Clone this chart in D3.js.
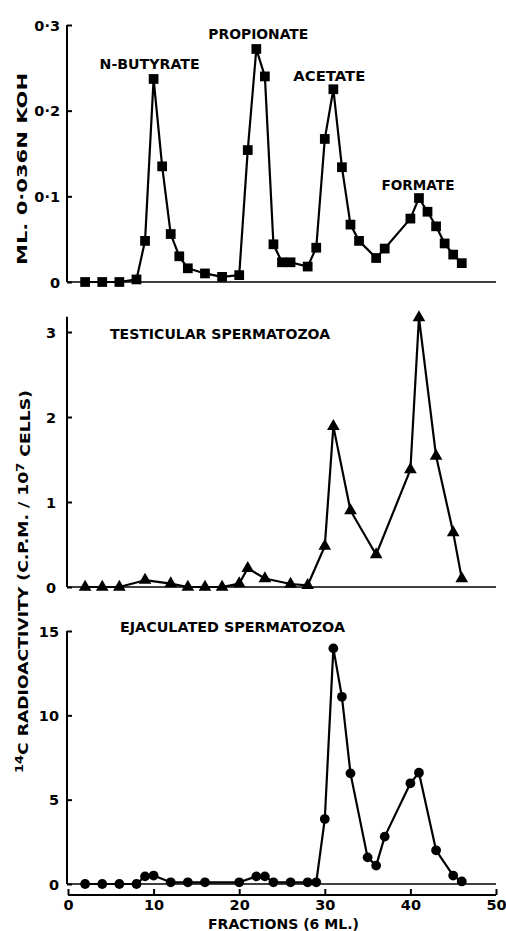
<!DOCTYPE html>
<html><head><meta charset="utf-8">
<script src="https://cdn.jsdelivr.net/npm/d3@7"></script>
<style>body{margin:0;background:#fff}svg{display:block}text{font-family:"DejaVu Sans","Liberation Sans",Arial,sans-serif;font-weight:bold;fill:#000}</style>
</head><body>
<script>
// Data
const topFractions = [2,4,6,8,9,10,11,12,13,14,16,18,20,21,22,23,24,25,26,28,29,30,31,32,33,34,36,37,40,41,42,43,44,45,46];
const topValues = [0,0,0,0.003,0.048,0.237,0.135,0.056,0.030,0.016,0.010,0.006,0.008,0.154,0.272,0.240,0.044,0.023,0.023,0.018,0.040,0.167,0.225,0.134,0.067,0.048,0.028,0.039,0.074,0.098,0.082,0.065,0.045,0.032,0.022];
const midFractions = [2,4,6,9,12,14,16,18,20,21,23,26,28,30,31,33,36,40,41,43,45,46];
const midValues = [0,0,0,0.08,0.04,0,0,0,0.04,0.22,0.10,0.035,0.02,0.48,1.89,0.90,0.38,1.38,3.17,1.54,0.64,0.10];
const botFractions = [2,4,6,8,9,10,12,14,16,20,22,23,24,26,28,29,30,31,32,33,35,36,37,40,41,43,45,46];
const botValues = [0,0,0,0,0.45,0.5,0.1,0.1,0.1,0.1,0.45,0.45,0.1,0.1,0.1,0.1,3.85,13.97,11.1,6.56,1.58,1.09,2.81,5.97,6.6,2.0,0.5,0.15];
const xTicks = [0,10,20,30,40,50];
const topTicks = [0,0.1,0.2,0.3];
const topTickLabels = ["0","0·1","0·2","0·3"];
const midTicks = [0,1,2,3];
const botTicks = [0,5,10,15];
const peakLabels = ["N-BUTYRATE","PROPIONATE","ACETATE","FORMATE"];
const peakFractions = [10,22,31,41];

const W=506,H=931;
const svg=d3.select("body").append("svg").attr("width",W).attr("height",H);
const x=d3.scaleLinear().domain([0,50]).range([68,496]);
const yTop=d3.scaleLinear().domain([0,0.3]).range([282,25]);
const yMid=d3.scaleLinear().domain([0,3]).range([587,332]);
const yBot=d3.scaleLinear().domain([0,15]).range([884,631]);

function panel(y, fr, vals, ticks, fmt, pad, top, marker){
  const g=svg.append("g");
  const ax=d3.axisLeft(y).tickValues(ticks).tickSize(-5).tickPadding(pad).tickFormat(fmt);
  const ga=g.append("g").attr("transform","translate(67,0)").call(ax);
  ga.select(".domain").remove();
  ga.selectAll(".tick line").attr("stroke","#000").attr("stroke-width",2);
  ga.selectAll(".tick text").style("font-size","14.5px").attr("dy","0.35em");
  g.append("line").attr("x1",67).attr("x2",67).attr("y1",y(top)).attr("y2",y(0)).attr("stroke","#000").attr("stroke-width",2);
  g.append("line").attr("x1",67).attr("x2",x(50)).attr("y1",y(0)).attr("y2",y(0)).attr("stroke","#000").attr("stroke-width",1.5);
  const pts=fr.map((f,i)=>[f,vals[i]]);
  g.append("path").datum(pts).attr("fill","none").attr("stroke","#000").attr("stroke-width",2.2)
    .attr("stroke-linejoin","round")
    .attr("d",d3.line().x(d=>x(d[0])).y(d=>y(d[1])));
  const sym=d3.symbol().type(marker.type).size(marker.size);
  g.selectAll("path.m").data(pts).join("path").attr("class","m")
    .attr("transform",d=>`translate(${x(d[0])},${y(d[1])})`).attr("d",sym).attr("fill","#000");
  return g;
}
panel(yTop, topFractions, topValues, topTicks, (d,i)=>topTickLabels[i], 7, 0.3, {type:d3.symbolSquare,size:95});
panel(yMid, midFractions, midValues, midTicks, d3.format("d"), 11, 3.18, {type:d3.symbolTriangle,size:70});
panel(yBot, botFractions, botValues, botTicks, d3.format("d"), 8, 15, {type:d3.symbolCircle,size:75});

// peak labels (offsets relative to each peak point)
const peakDx=[-4,2,-4,-1], peakDy=[-10,-10,-8,-8], peakLen=[100,100,72,73];
svg.selectAll("text.peak").data(peakLabels).join("text").attr("class","peak")
  .attr("x",(d,i)=>x(peakFractions[i])+peakDx[i]-peakLen[i]/2)
  .attr("y",(d,i)=>yTop(topValues[topFractions.indexOf(peakFractions[i])])+peakDy[i])
  .attr("textLength",(d,i)=>peakLen[i]).attr("lengthAdjust","spacingAndGlyphs")
  .style("font-size","14px").text(d=>d);

svg.append("text").attr("x",110).attr("y",339).style("font-size","14px").attr("textLength",220).attr("lengthAdjust","spacingAndGlyphs").text("TESTICULAR  SPERMATOZOA");
svg.append("text").attr("x",120).attr("y",632).style("font-size","14px").attr("textLength",225).attr("lengthAdjust","spacingAndGlyphs").text("EJACULATED  SPERMATOZOA");

// bottom x axis
const xa=d3.axisBottom(x).tickValues(xTicks).tickSize(-6).tickPadding(6);
const gx=svg.append("g").attr("transform","translate(0,895)").call(xa);
gx.select(".domain").attr("stroke-width",2).attr("d","M68,0H496");
gx.selectAll(".tick line").attr("stroke-width",2);
gx.selectAll(".tick text").style("font-size","14.5px").attr("dy","0.6em");
svg.append("text").attr("x",208).attr("y",929).attr("textLength",151).attr("lengthAdjust","spacingAndGlyphs").style("font-size","14px").text("FRACTIONS  (6 ML.)");

// y labels
svg.append("text").attr("transform","translate(27,265) rotate(-90)").attr("textLength",192).attr("lengthAdjust","spacingAndGlyphs").style("font-size","14px").text("ML.  0·036N  KOH");
const yl=svg.append("text").attr("transform","translate(27,773) rotate(-90)").attr("textLength",383).attr("lengthAdjust","spacingAndGlyphs").style("font-size","14px");
yl.append("tspan").attr("dy","-0.4em").style("font-size","10.5px").text("14");
yl.append("tspan").attr("dy","0.4em").text("C  RADIOACTIVITY   (C.P.M. / 10");
yl.append("tspan").attr("dy","-0.4em").style("font-size","10.5px").text("7");
yl.append("tspan").attr("dy","0.4em").text("  CELLS)");
</script>
</body></html>
